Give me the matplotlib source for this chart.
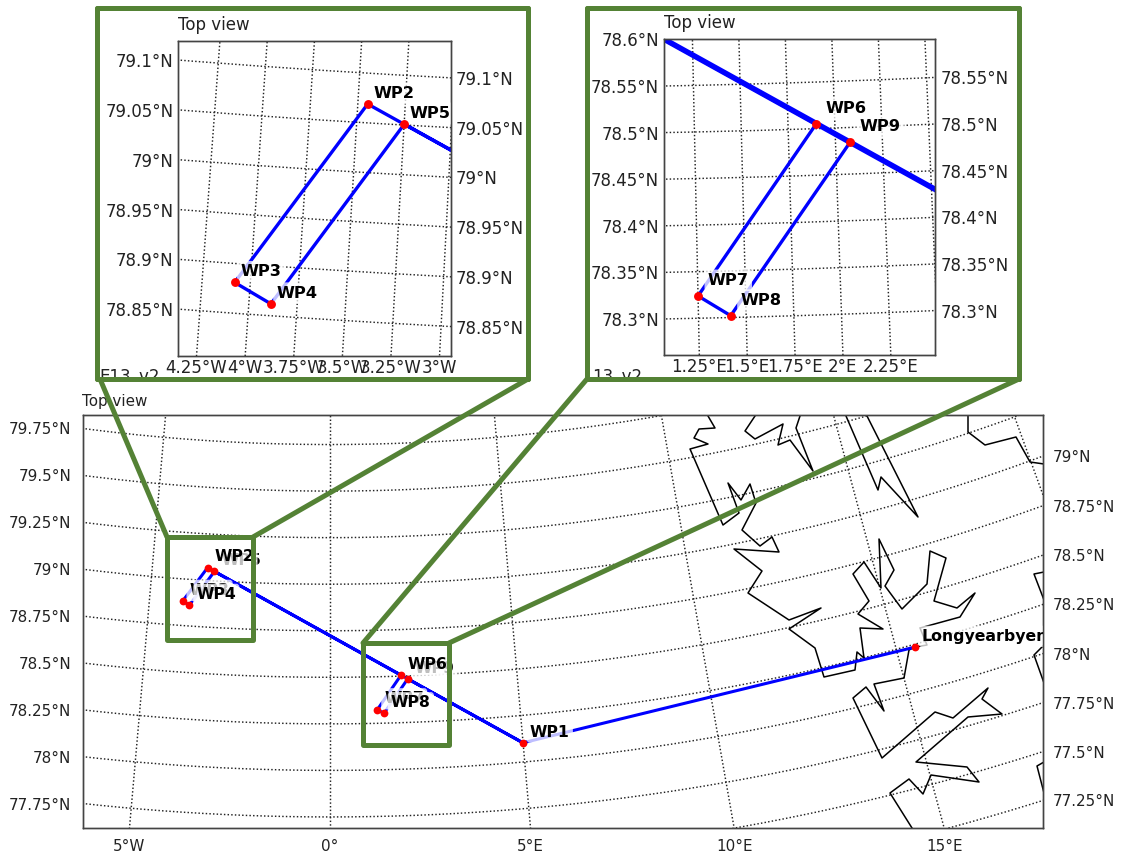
import numpy as np
import matplotlib
matplotlib.use('Agg')
import matplotlib.pyplot as plt
from matplotlib.lines import Line2D
from matplotlib.patches import Rectangle

FIG_W, FIG_H = 1123, 857
GREEN = '#548235'
GRID_R = 186.2  # map units per degree of latitude

# waypoints (lon, lat)
wp_names = ['Longyearbyen', 'WP1', 'WP2', 'WP3', 'WP4', 'WP5', 'WP6', 'WP7', 'WP8', 'WP9']
wp_lon = [15.49, 4.996, -3.448, -4.081, -3.886, -3.249, 1.90, 1.25, 1.419, 2.077]
wp_lat = [78.235, 78.103, 79.069, 78.881, 78.862, 79.051, 78.505, 78.324, 78.302, 78.484]
route = ['Longyearbyen', 'WP1', 'WP2', 'WP3', 'WP4', 'WP5', 'WP6', 'WP7', 'WP8', 'WP9', 'WP1']
label_order = ['Longyearbyen', 'WP1', 'WP3', 'WP5', 'WP7', 'WP9', 'WP2', 'WP4', 'WP6', 'WP8']

# coastline pieces, in map units
coast_a_x = [378, 385, 369, 364, 378, 360, 393, 409, 398, 411, 420, 426, 412, 430, 442, 449, 404, 432,
             418, 459, 491, 459, 485, 494, 525, 527, 534, 530, 553, 528, 539, 523, 534, 551, 549, 564,
             555, 572, 597, 600, 616, 604, 627, 645, 630, 590, 597, 585, 579, 574, 544, 554, 536, 523,
             552, 605, 623, 658, 652, 672, 638, 586, 637, 649, 601, 593, 579, 560, 582]
coast_a_y = [-1880, -1892, -1893, -1902, -1908, -1913, -1989, -1977, -1947, -1964, -1948, -1967, -1994,
             -2010, -2001, -2016, -2013, -2035, -2057, -2084, -2072, -2093, -2112, -2141, -2134, -2116,
             -2122, -2092, -2093, -2078, -2065, -2038, -2026, -2052, -2003, -2034, -2050, -2073, -2048,
             -2015, -2022, -2065, -2072, -2057, -2081, -2092, -2109, -2111, -2114, -2142, -2148, -2175,
             -2151, -2162, -2222, -2176, -2182, -2152, -2163, -2178, -2181, -2226, -2231, -2246, -2239,
             -2258, -2243, -2257, -2292]
coast_b_x = [425, 415, 425, 453, 448, 460, 483, 466, 470]
coast_b_y = [-1880, -1895, -1903, -1888, -1909, -1904, -1935, -1892, -1880]
coast_c_x = [516, 548, 551, 588, 537]
coast_c_y = [-1880, -1954, -1941, -1981, -1880]
coast_d_x = [638, 638, 655, 686, 700, 714]
coast_d_y = [-1880, -1896, -1909, -1901, -1926, -1928]
coast_e_x = [714, 704, 714]
coast_e_y = [-2036, -2038, -2064]
coast_f_x = [714, 704, 714]
coast_f_y = [-2109, -2119, -2147]
coast_g_x = [714, 707, 714]
coast_g_y = [-2226, -2230, -2257]
coast_pieces = [(coast_a_x, coast_a_y), (coast_b_x, coast_b_y), (coast_c_x, coast_c_y), (coast_d_x, coast_d_y),
                (coast_e_x, coast_e_y), (coast_f_x, coast_f_y), (coast_g_x, coast_g_y)]

# graticule and tick labels
main_lats = np.arange(77.0, 80.26, 0.25)
main_lons = [-10, -5, 0, 5, 10, 15, 20, 25]
inset1_lats = np.arange(78.75, 79.16, 0.05)
inset1_lons = np.arange(-4.5, -2.74, 0.25)
inset2_lats = np.arange(78.2, 78.61, 0.05)
inset2_lons = np.arange(1.0, 2.76, 0.25)


def project(lon, lat):
    colat = GRID_R * (90 - np.asarray(lat, dtype=float))
    theta = np.radians(np.asarray(lon, dtype=float))
    return colat * np.sin(theta), -colat * np.cos(theta)


def px_axes(left, top, right, bottom, **kw):
    return fig.add_axes([left / FIG_W, 1 - bottom / FIG_H, (right - left) / FIG_W, (bottom - top) / FIG_H], **kw)


def lat_text(v):
    return ('%.2f' % v).rstrip('0').rstrip('.') + '°N'


def lon_text(v):
    if abs(v) < 1e-6:
        return '0°'
    return ('%.2f' % abs(v)).rstrip('0').rstrip('.') + ('°E' if v > 0 else '°W')


def lat_ticks(lats, x_edge, ylim):
    ticks, labels = [], []
    for lat in lats:
        rho = GRID_R * (90 - lat)
        y = -np.sqrt(rho ** 2 - x_edge ** 2)
        if ylim[0] <= y <= ylim[1]:
            ticks.append(y)
            labels.append(lat_text(lat))
    return ticks, labels


def draw_map(ax, xlim, ylim, lats, lons, fs, lab_fs, pads, lw, thick_leg=False, offset=(5, 4.5)):
    lon_line = np.linspace(-30, 40, 400)
    lat_line = np.linspace(76, 81, 100)
    for lat in lats:
        gx, gy = project(lon_line, np.full_like(lon_line, lat))
        ax.plot(gx, gy, color='#222222', ls=(0, (1, 1.5)), lw=1.05, zorder=1)
    for lon in lons:
        gx, gy = project(np.full_like(lat_line, lon), lat_line)
        ax.plot(gx, gy, color='#222222', ls=(0, (1, 1.5)), lw=1.05, zorder=1)

    idx = [wp_names.index(n) for n in route]
    rx, ry = project(np.array(wp_lon)[idx], np.array(wp_lat)[idx])
    ax.plot(rx, ry, color='#0000ff', lw=lw, zorder=2, solid_capstyle='round')
    if thick_leg:
        tx, ty = project([wp_lon[1], wp_lon[2]], [wp_lat[1], wp_lat[2]])
        ax.plot(tx, ty, color='#0000ff', lw=4.0, zorder=2)

    mx, my = project(wp_lon, wp_lat)
    ax.plot(mx, my, ls='none', marker='o', color='red', ms=5.6 if lw < 2.3 else 6.4, mew=0, zorder=6)
    for name in label_order:
        i = wp_names.index(name)
        ax.annotate(name, (mx[i], my[i]), xytext=offset, textcoords='offset points', fontweight='bold',
                    fontsize=lab_fs, color='black', zorder=5, clip_on=True, annotation_clip=True,
                    bbox=dict(boxstyle='round,pad=0.2', fc='white', ec='none', alpha=0.75))

    ax.set_xlim(xlim)
    ax.set_ylim(ylim)
    yt, yl = lat_ticks(lats, xlim[0], ylim)
    ax.set_yticks(yt, yl)
    xt = [abs(ylim[0]) * np.tan(np.radians(v)) for v in lons]
    xt_lab = [(t, lon_text(v)) for t, v in zip(xt, lons) if xlim[0] <= t <= xlim[1]]
    ax.set_xticks([t for t, _ in xt_lab], [s for _, s in xt_lab])
    ax.tick_params(axis='x', length=0, labelsize=fs, pad=pads[0], colors='#222222')
    ax.tick_params(axis='y', length=0, labelsize=fs, pad=pads[1], colors='#222222')
    ax2 = ax.twinx()
    ax2.set_ylim(ylim)
    yt, yl = lat_ticks(lats, xlim[1], ylim)
    ax2.set_yticks(yt, yl)
    ax2.tick_params(axis='y', length=0, labelsize=fs, pad=pads[2], colors='#222222')
    for a in (ax, ax2):
        for sp in a.spines.values():
            sp.set_color('#444444')
            sp.set_linewidth(1.0)


fig = plt.figure(figsize=(FIG_W / 100, FIG_H / 100), dpi=100, facecolor='white')

# main map
ax_main = px_axes(83, 415, 1043, 828)
ax_main.set_zorder(1)
for cx, cy in coast_pieces:
    ax_main.plot(cx, cy, color='black', lw=1.1, zorder=1.5)
draw_map(ax_main, (-247, 713), (-2292, -1879), main_lats, main_lons, 10.9, 11.3, (8, 8.5, 7), 2.2)
fig.text(82 / FIG_W, 1 - 406 / FIG_H, 'Top view', fontsize=10.9, color='#222222', zorder=2)

# overlay in pixel coordinates for the zoom frames
over = fig.add_axes([0, 0, 1, 1], facecolor='none', zorder=3)
over.set_xlim(0, FIG_W)
over.set_ylim(FIG_H, 0)
over.axis('off')
frame_kw = dict(fill=False, ec=GREEN, lw=3.6, joinstyle='round')
for box in [(167, 537, 86, 103), (363, 643, 86, 102)]:
    over.add_patch(Rectangle(box[:2], box[2], box[3], **frame_kw))
for xs, ys in [((100, 167), (379, 537)), ((528, 253), (379, 537)), ((587, 363), (379, 643)), ((1019, 449), (379, 643))]:
    over.add_line(Line2D(xs, ys, color=GREEN, lw=3.6, solid_capstyle='round'))
for box in [(97, 8, 431, 371), (587, 8, 432, 371)]:
    over.add_patch(Rectangle(box[:2], box[2], box[3], fc='white', ec=GREEN, lw=3.6, joinstyle='round', zorder=3))
for x, s in [(99, 'E13_v2'), (592, '13_v2')]:
    t = over.text(x, 382, s, fontsize=12, color='#222222', zorder=3.5, clip_on=True)
    t.set_clip_path(Rectangle((0, 8), FIG_W, 369, transform=over.transData))
for box in [(97, 8, 431, 371), (587, 8, 432, 371)]:
    over.add_patch(Rectangle(box[:2], box[2], box[3], fill=False, ec=GREEN, lw=3.6, joinstyle='round', zorder=4))
over.text(178, 30, 'Top view', fontsize=12, color='#222222', zorder=5)
over.text(664, 28, 'Top view', fontsize=12, color='#222222', zorder=5)

# zoomed maps
ax_in1 = px_axes(178.3, 40.7, 451, 356)
ax_in1.set_zorder(4)
draw_map(ax_in1, (-157.9, -106.8), (-2078.9, -2019.8), inset1_lats, inset1_lons, 12, 11.7, (2.2, 3.5, 3.5), 2.4,
         offset=(4, 4.5))
ax_in2 = px_axes(664, 39, 935.3, 354.7)
ax_in2.set_zorder(4)
draw_map(ax_in2, (40.64, 94.73), (-2185.3, -2122.2), inset2_lats, inset2_lons, 12, 11.7, (2.6, 3.5, 3.5), 2.4,
         thick_leg=True, offset=(7, 8))

fig.savefig('out.png', dpi=100)
